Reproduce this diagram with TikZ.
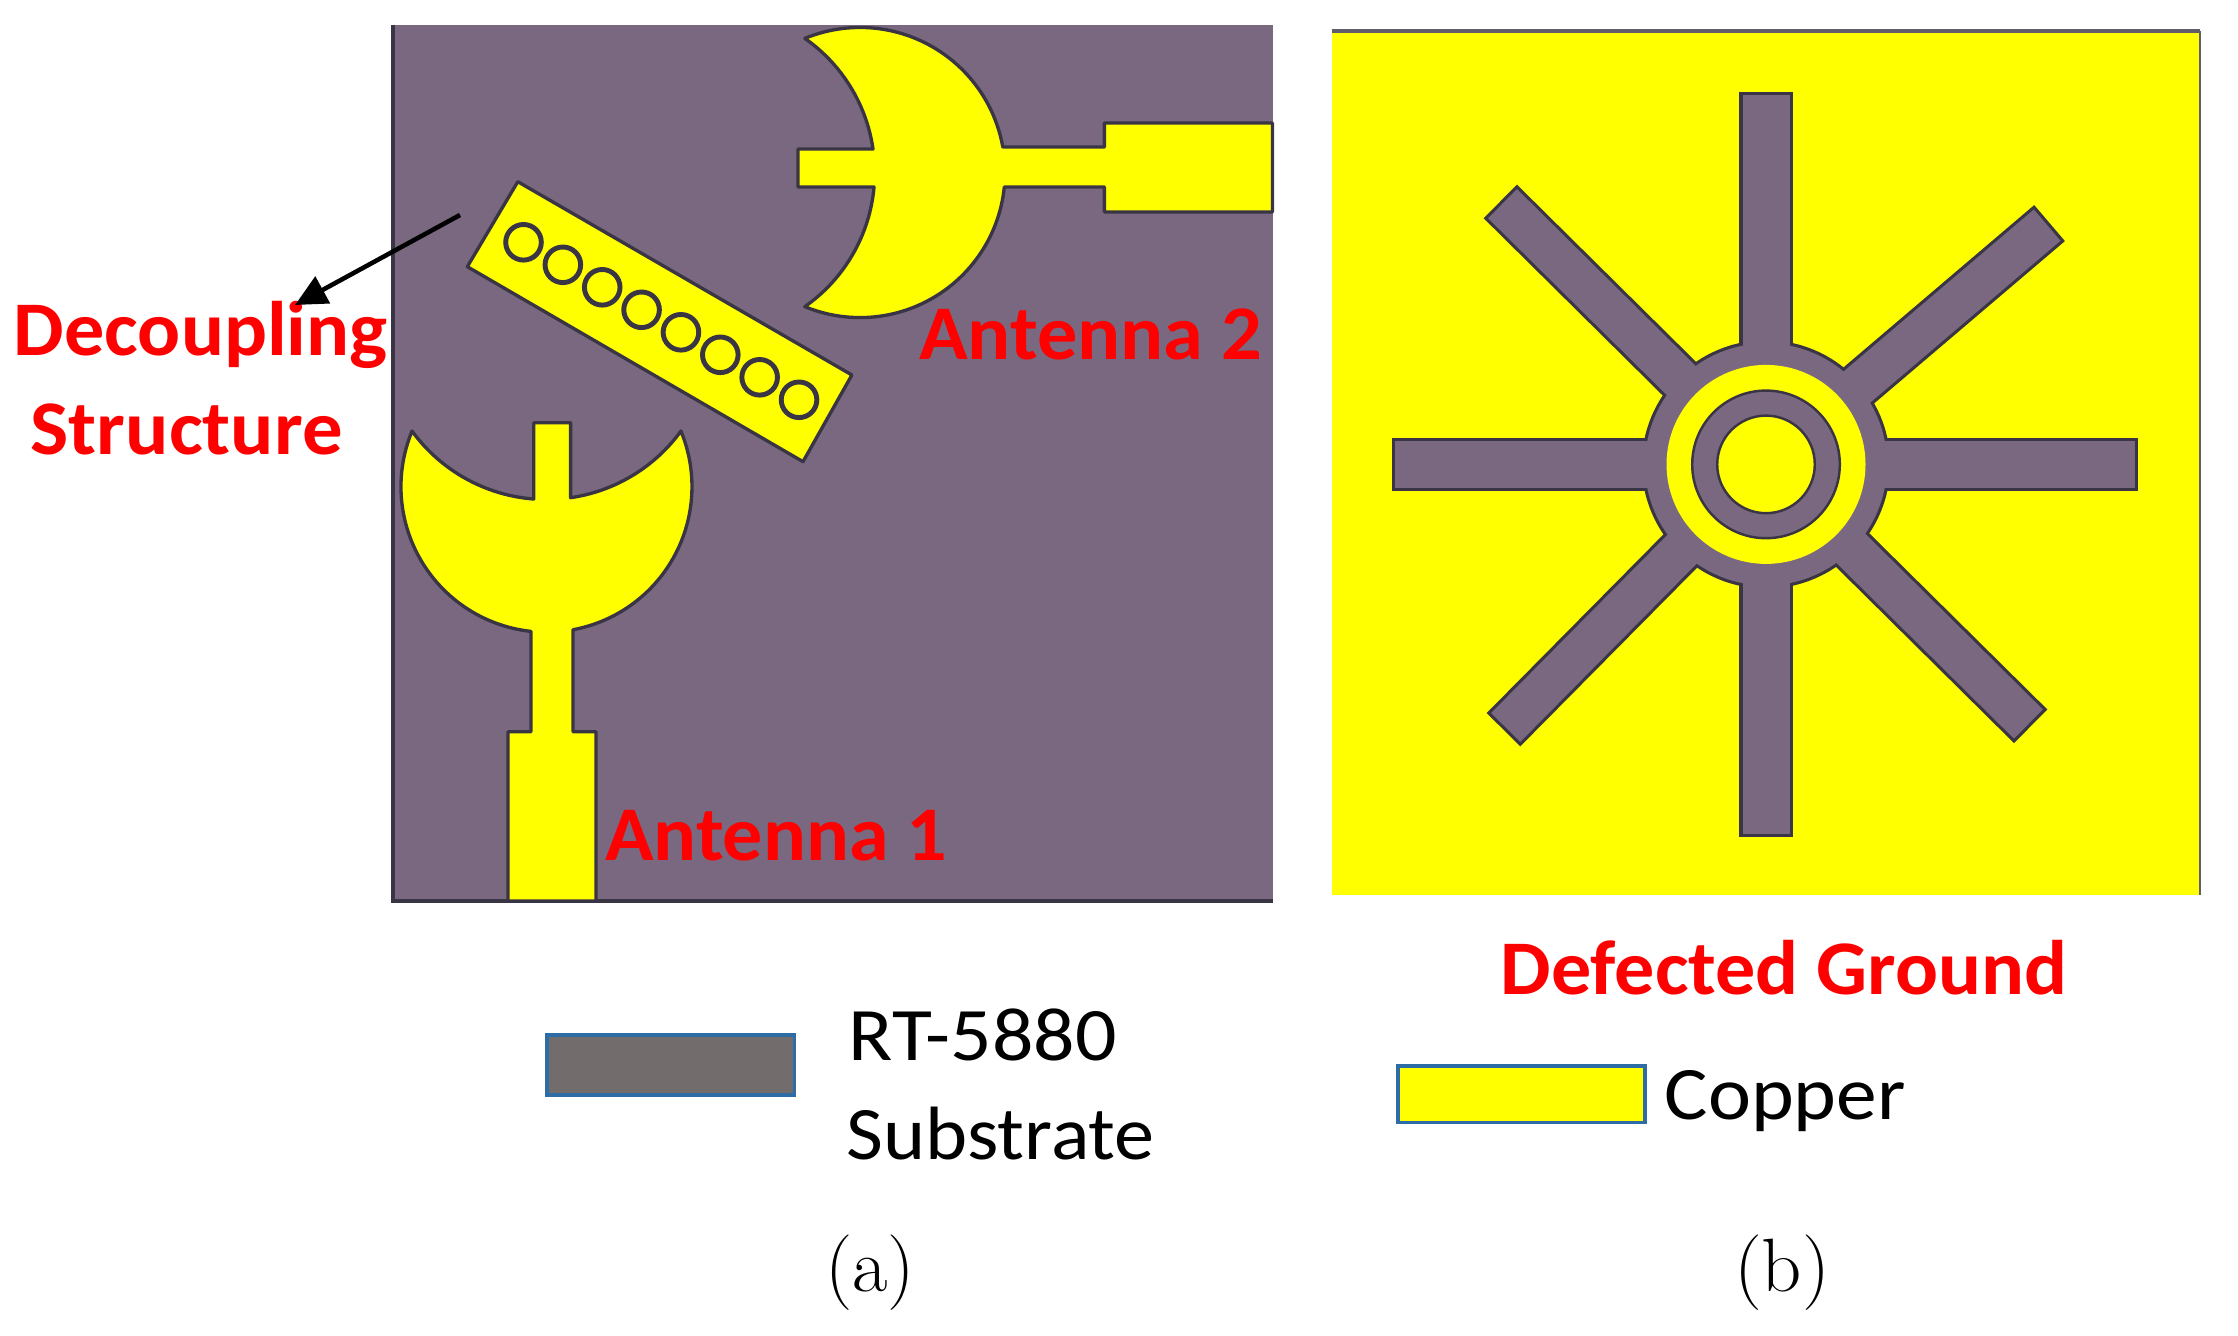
\documentclass[tikz,border=0pt]{standalone}
\usepackage{graphicx}
\usepackage{fontspec}
\setmainfont{Carlito}
\usetikzlibrary{arrows.meta}
\definecolor{subst}{HTML}{7A6880}
\definecolor{edgec}{HTML}{3A3545}
\definecolor{legendgray}{HTML}{736C6C}
\definecolor{legendblue}{HTML}{2E6CA6}
\definecolor{copper}{HTML}{FFFF00}
\definecolor{redlabel}{HTML}{FF0000}
\newfontfamily\capfont{Latin Modern Roman}
\tikzset{
  metal/.style={fill=copper,draw=edgec,line width=0.95pt,line join=round},
  viaring/.style={fill=copper,draw=edgec,line width=1.4pt},
  slotout/.style={draw=edgec,line width=1.8pt,fill=edgec,line join=miter},
  slotin/.style={fill=subst},
  legendbox/.style={draw=legendblue,line width=0.95pt},
  redtxt/.style={inner sep=0pt,anchor=base west,text=redlabel,font=\fontsize{22}{26}\selectfont\bfseries},
  blacktxt/.style={inner sep=0pt,anchor=base west,text=black,font=\fontsize{21.5}{26}\selectfont},
  captxt/.style={inner sep=0pt,anchor=base,text=black,font=\capfont\fontsize{21.5}{24}\selectfont},
  pointer/.style={draw=black,line width=1.3pt,-{Triangle[length=9pt,width=8.5pt]}}
}
\newcommand{\fitw}[2]{\resizebox{#1cm}{\height}{#2}}
\newcommand{\groundslots}[1]{%
  \foreach \a/\l/\w in {0/369/23.5,90/369.1/23.5,180/371.2/23.5,-90/369.6/23.5,-135.3/370.7/20.5,-40.4/369.2/20.5,134.7/370.1/20.5,44.7/369.2/20.5}{%
    \path[#1,shift={(1766,464.4)},rotate=\a] (0,-\w)--(\l,-\w)--(\l,\w)--(0,\w)--cycle;}
  \path[#1] (1766,464.4) circle[radius=121pt];}
\begin{document}
\begin{tikzpicture}[x=1pt,y=1pt,scale=0.28453,yscale=-1]
\path[fill=white,use as bounding box] (0,0) rectangle (2238,1336);
% panel (a)
\fill[subst] (392,25) rectangle (1272.5,901);
\draw[edgec,line width=1.1pt] (393,25)--(393,901)--(1272.5,901);
% antenna 2
\path[metal] (804.8,38.4) arc[start angle=-112.4,end angle=-10.1,radius=145pt]
  -- (1104.4,147) -- (1104.4,123) -- (1272.5,123) -- (1272.5,212) -- (1104.4,212) -- (1104.4,187) -- (1004.3,187)
  arc[start angle=5.7,end angle=112.4,radius=145pt]
  arc[start angle=55.06,end angle=5.08,radius=163.6pt]
  -- (798,187) -- (798,149) -- (873,149)
  arc[start angle=-8.26,end angle=-55.06,radius=163.6pt] -- cycle;
% antenna 1
\path[metal] (680.9,431) arc[start angle=-22.5,end angle=79.5,radius=145.5pt]
  -- (573,731.7) -- (596,731.7) -- (596,901) -- (508,901) -- (508,731.7) -- (531,731.7) -- (531,631.4)
  arc[start angle=96.1,end angle=202.5,radius=145.5pt]
  arc[start angle=144,end angle=94.4,radius=166.1pt]
  -- (533.8,422.7) -- (570.6,422.7) -- (570.6,497.7)
  arc[start angle=81.7,end angle=36,radius=166.1pt] -- cycle;
% decoupling structure
\path[metal] (517.8,181.7) -- (851.9,375) -- (803,461.7) -- (467.3,266.7) -- cycle;
\foreach \i in {0,...,7}{\path[viaring] (523.5+39.36*\i,242.3+22.5*\i) circle[radius=17.8pt];}
% panel (b)
\fill[copper] (1331.5,31) rectangle (2200,895);
\draw[edgec!80!white,line width=1.1pt] (1331.5,31)--(2200,31);
\draw[edgec!80!white,line width=0.5pt] (2200,31)--(2200,895);
\groundslots{slotout}
\groundslots{slotin}
\fill[copper] (1766,464.4) circle[radius=99.5pt];
\path[fill=subst,draw=edgec,line width=0.7pt] (1766,464.4) circle[radius=73.8pt];
\path[fill=copper,draw=edgec,line width=0.7pt] (1766,464.4) circle[radius=48.8pt];
% labels
\node[redtxt] (lblDec) at (13,356) {\fitw{3.74}{Decoupling}};
\node[redtxt] (lblStr) at (30,455) {\fitw{3.12}{Structure}};
\node[redtxt] (lblAnt2) at (918.5,360) {\fitw{3.43}{Antenna 2}};
\node[redtxt] (lblAnt1) at (604.5,860) {\fitw{3.42}{Antenna 1}};
\node[redtxt] (lblDG) at (1500,994) {\fitw{5.67}{Defected Ground}};
% legends
\path[legendbox,fill=legendgray] (547,1035) rectangle (794.6,1095);
\path[legendbox,fill=copper] (1398,1066) rectangle (1645,1122.7);
\node[blacktxt] (lblRT) at (848,1060) {\fitw{2.68}{RT-5880}};
\node[blacktxt] (lblSub) at (846,1159) {\fitw{3.08}{Substrate}};
\node[blacktxt] (lblCu) at (1664,1119) {\fitw{2.41}{Copper}};
\node[captxt] (capA) at (870,1291) {\fitw{0.90}{(a)}};
\node[captxt] (capB) at (1782,1291) {\fitw{0.96}{(b)}};
% pointer
\coordinate (ptrS) at (460,215);
\coordinate (ptrT) at (295,305);
\draw[pointer] (ptrS) -- (ptrT);
\end{tikzpicture}
\end{document}
